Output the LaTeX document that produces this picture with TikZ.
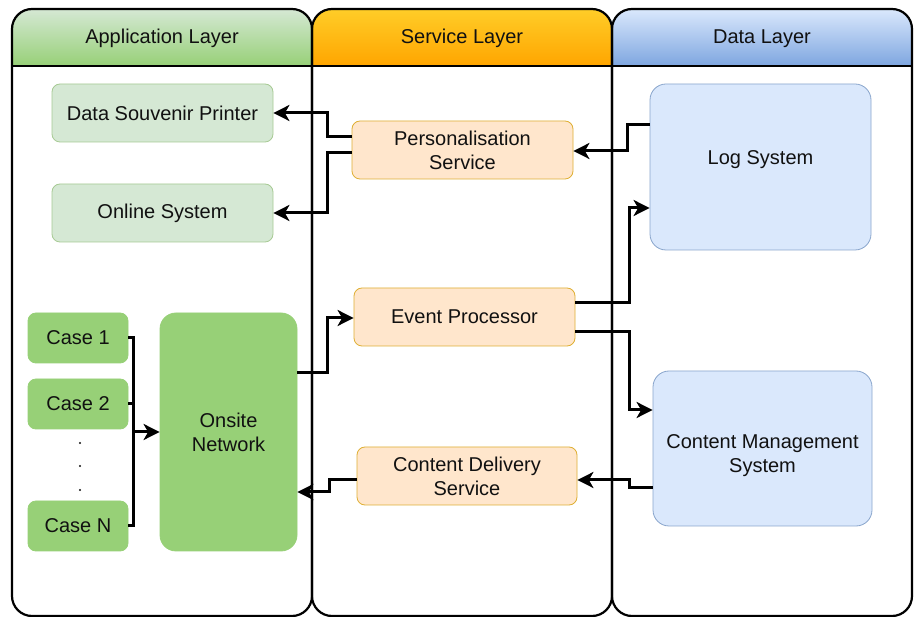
\documentclass[tikz,border=0pt]{standalone}
\usepackage{fontspec}
\setmainfont{Liberation Sans}
\usetikzlibrary{arrows.meta,calc}
\definecolor{gtop}{HTML}{D5E8D4}
\definecolor{gbot}{HTML}{97D077}
\definecolor{otop}{HTML}{FFCD28}
\definecolor{obot}{HTML}{FFA500}
\definecolor{btop}{HTML}{DAE8FC}
\definecolor{bbot}{HTML}{7EA6E0}
\definecolor{gfill}{HTML}{D5E8D4}
\definecolor{gline}{HTML}{82B366}
\definecolor{ofill}{HTML}{FFE6CC}
\definecolor{oline}{HTML}{D79B00}
\definecolor{bfill}{HTML}{DAE8FC}
\definecolor{bline}{HTML}{6C8EBF}
\definecolor{cfill}{HTML}{97D077}
\definecolor{txt}{HTML}{111111}
\tikzset{
  lane/.style={draw=black,line width=2.2pt,rounded corners=20pt},
  box/.style={rounded corners=8pt,line width=0.8pt,align=center,text=txt,
    font=\fontsize{20}{24}\selectfont,inner sep=0pt},
  lightgreen/.style={box,fill=gfill,draw=gline!70},
  orangebox/.style={box,fill=ofill,draw=oline!80},
  bluebox/.style={box,fill=bfill,draw=bline!80,rounded corners=16pt},
  casebox/.style={box,fill=cfill,draw=cfill},
  lbl/.style={align=center,text=txt,font=\fontsize{20}{24}\selectfont,inner sep=0pt},
  conn/.style={draw=black,line width=3pt},
  arr/.style={conn,-{Stealth[length=16pt,width=16pt,inset=4.5pt]}},
  hdr/.style={text=txt,font=\fontsize{20}{24}\selectfont}
}
\begin{document}
\begin{tikzpicture}[x=1pt,y=-1pt]
\useasboundingbox (0,0) rectangle (914,617);
\fill[white] (0,0) rectangle (914,617);
% headers
\shade[top color=gtop,bottom color=gbot] (12,66) [rounded corners=20pt]-- (12,9) -- (312,9) [sharp corners]-- (312,66) -- cycle;
\shade[top color=otop,bottom color=obot] (312,66) [rounded corners=20pt]-- (312,9) -- (612,9) [sharp corners]-- (612,66) -- cycle;
\shade[top color=btop,bottom color=bbot] (612,66) [rounded corners=20pt]-- (612,9) -- (912,9) [sharp corners]-- (912,66) -- cycle;
\draw[lane] (12,9) rectangle (312,616);
\draw[lane] (312,9) rectangle (612,616);
\draw[lane] (612,9) rectangle (912,616);
\draw[line width=2.2pt] (12,66) -- (912,66);
\node[hdr] (happ) at (162,38.5) {Application Layer};
\node[hdr] (hsrv) at (462,38.5) {Service Layer};
\node[hdr] (hdat) at (762,38.5) {Data Layer};
% nodes
\node[lightgreen,minimum width=221pt,minimum height=58pt] (DSP) at (162.5,113) {Data Souvenir Printer};
\node[lightgreen,minimum width=221pt,minimum height=58pt] (Online) at (162.5,213) {\raisebox{-1.5pt}{Online System}};
\node[orangebox,minimum width=221pt,minimum height=58pt] (PS) at (462.5,150) {Personalisation\\Service};
\node[bluebox,minimum width=221pt,minimum height=166pt] (Log) at (760.5,167) {};
\node[lbl] (LogT) at (760.5,160) {Log System};
\node[orangebox,minimum width=221pt,minimum height=58pt] (EP) at (464.5,317) {\raisebox{-1pt}{Event Processor}};
\node[bluebox,minimum width=219pt,minimum height=155pt] (CMS) at (762.5,448.5) {};
\node[lbl] (CMST) at (762.5,455.5) {Content Management\\System};
\node[orangebox,minimum width=220pt,minimum height=58pt] (CDS) at (467,476) {Content Delivery\\Service};
\node[casebox,minimum width=100pt,minimum height=50pt] (Case1) at (78,338) {\raisebox{-1pt}{Case 1}};
\node[casebox,minimum width=100pt,minimum height=50pt] (Case2) at (78,404) {\raisebox{-1pt}{Case 2}};
\node[casebox,minimum width=100pt,minimum height=50pt] (CaseN) at (78,526) {\raisebox{-1pt}{Case N}};
\node[casebox,rounded corners=16pt,minimum width=137pt,minimum height=238pt] (Onsite) at (228.5,432) {Onsite\\Network};
\fill[txt] (80,443) circle (1.2pt) (80,466) circle (1.2pt) (80,490) circle (1.2pt);
% connectors
\draw[arr] ($(PS.west)+(0,-13)$) -- ++(-24,0) |- (DSP.east);
\draw[arr] ($(PS.west)+(0,3)$) -- ++(-24,0) |- (Online.east);
\draw[arr] ($(Log.west)+(0,-42)$) -- ++(-22,0) |- ($(PS.east)+(0,1)$);
\draw[arr] ($(EP.east)+(0,-14)$) -- ++(54,0) |- ($(Log.west)+(0,41)$);
\draw[arr] ($(EP.east)+(0,15)$) -- ++(54,0) |- ($(CMS.west)+(0,-38.5)$);
\draw[arr] ($(Onsite.east)+(0,-59)$) -- ++(30,0) |- ($(EP.west)+(0,1)$);
\draw[arr] ($(CMS.west)+(0,39.5)$) -- ++(-23,0) |- ($(CDS.east)+(0,4)$);
\draw[arr] ($(CDS.west)+(0,4)$) -- ++(-27,0) |- ($(Onsite.east)+(0,60)$);
\coordinate (bus) at ($(Case1.east)+(5,0)$);
\draw[conn] (Case1.east) -- (bus) |- (CaseN.east);
\draw[conn] (Case2.east) -- (Case2.east -| bus);
\draw[arr] (bus |- Onsite.west) -- (Onsite.west);
\end{tikzpicture}
\end{document}
